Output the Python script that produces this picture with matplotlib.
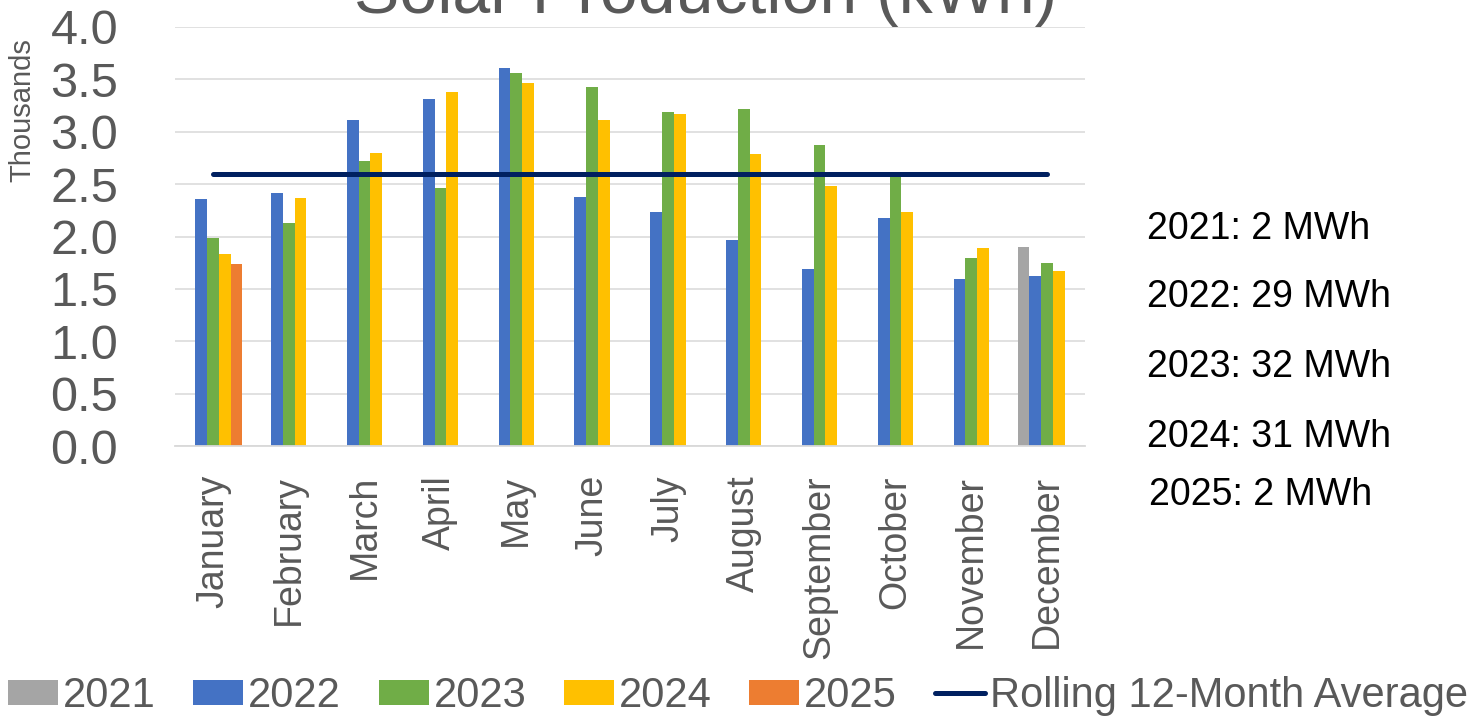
import numpy as np
import matplotlib
matplotlib.use("Agg")
import matplotlib.pyplot as plt

plt.rcParams['font.family'] = ['Liberation Sans', 'DejaVu Sans']

months = ["January", "February", "March", "April", "May", "June", "July",
          "August", "September", "October", "November", "December"]
series_names = ["2021", "2022", "2023", "2024", "2025"]
nan = np.nan
y2021 = [nan, nan, nan, nan, nan, nan, nan, nan, nan, nan, nan, 1.90]
y2022 = [2.36, 2.42, 3.11, 3.31, 3.61, 2.38, 2.23, 1.97, 1.69, 2.18, 1.59, 1.62]
y2023 = [1.99, 2.13, 2.72, 2.46, 3.56, 3.43, 3.19, 3.22, 2.87, 2.58, 1.79, 1.75]
y2024 = [1.83, 2.37, 2.80, 3.38, 3.47, 3.11, 3.17, 2.79, 2.48, 2.23, 1.89, 1.67]
y2025 = [1.74, nan, nan, nan, nan, nan, nan, nan, nan, nan, nan, nan]
rolling = [2.6] * 12
rolling_label = "Rolling 12-Month Average"
totals_text = ["2021: 2 MWh", "2022: 29 MWh", "2023: 32 MWh", "2024: 31 MWh", "2025: 2 MWh"]
yticks = [0.0, 0.5, 1.0, 1.5, 2.0, 2.5, 3.0, 3.5, 4.0]

colors = ["#a5a5a5", "#4472c4", "#70ad47", "#ffc000", "#ed7d31"]
line_color = "#002060"
text_grey = "#595959"

W, H = 1475, 723
fig = plt.figure(figsize=(W / 100, H / 100), dpi=100)
ax = fig.add_axes([175 / W, 1 - 446 / H, (1085 - 175) / W, (446 - 27) / H])

x = np.arange(len(months))
bw = 0.156
data = [y2021, y2022, y2023, y2024, y2025]
handles = []
for k, (name, vals) in enumerate(zip(series_names, data)):
    b = ax.bar(x + (k - 2) * bw, np.array(vals, dtype=float), width=bw,
               color=colors[k], label=name, zorder=2)
    handles.append(b)

ln, = ax.plot(x, rolling, color=line_color, lw=3.6, solid_capstyle='round',
              label=rolling_label, zorder=3)
handles.append(ln)

ax.set_xlim(-0.5, len(months) - 0.5)
ax.set_ylim(0, 4.0)
ax.set_yticks(yticks)
ax.set_yticklabels([f"{v:.1f}" for v in yticks])
ax.grid(axis='y', color="#d9d9d9", lw=1.1, zorder=0)
ax.set_axisbelow(True)
for s in ['top', 'right', 'left']:
    ax.spines[s].set_visible(False)
ax.spines['bottom'].set_color("#d9d9d9")
ax.spines['bottom'].set_linewidth(1.3)
ax.tick_params(axis='y', length=0, pad=41, labelsize=35, labelcolor=text_grey)
ax.set_xticks(x)
ax.set_xticklabels(months, rotation=90, va='top', ha='center')
ax.tick_params(axis='x', length=0, pad=21, labelsize=27, labelcolor=text_grey)

fig.text(22 / W, 1 - 110 / H, "Thousands", rotation=90, ha='center', va='center',
         fontsize=21, color=text_grey)

fig.text(706 / W, 1 - 13 / H, "Solar Production (kWh)", ha='center', va='baseline',
         fontsize=49, color=text_grey)

ann_y = [229, 297, 367, 437, 495]
ann_x = [1147, 1147, 1147, 1147, 1149]
for t, xx, yy in zip(totals_text, ann_x, ann_y):
    fig.text(xx / W, 1 - yy / H, t, ha='left', va='center', fontsize=27, color='black')

labels = series_names + [rolling_label]
leg = fig.legend(handles, labels, loc='center left', bbox_to_anchor=(8 / W, 1 - 696 / H),
                 ncol=6, frameon=False, fontsize=30, handlelength=1.2, handleheight=0.55,
                 handletextpad=0.12, columnspacing=0.9, borderpad=0, borderaxespad=0)
for t in leg.get_texts():
    t.set_color(text_grey)

fig.savefig("out.png", dpi=100)
